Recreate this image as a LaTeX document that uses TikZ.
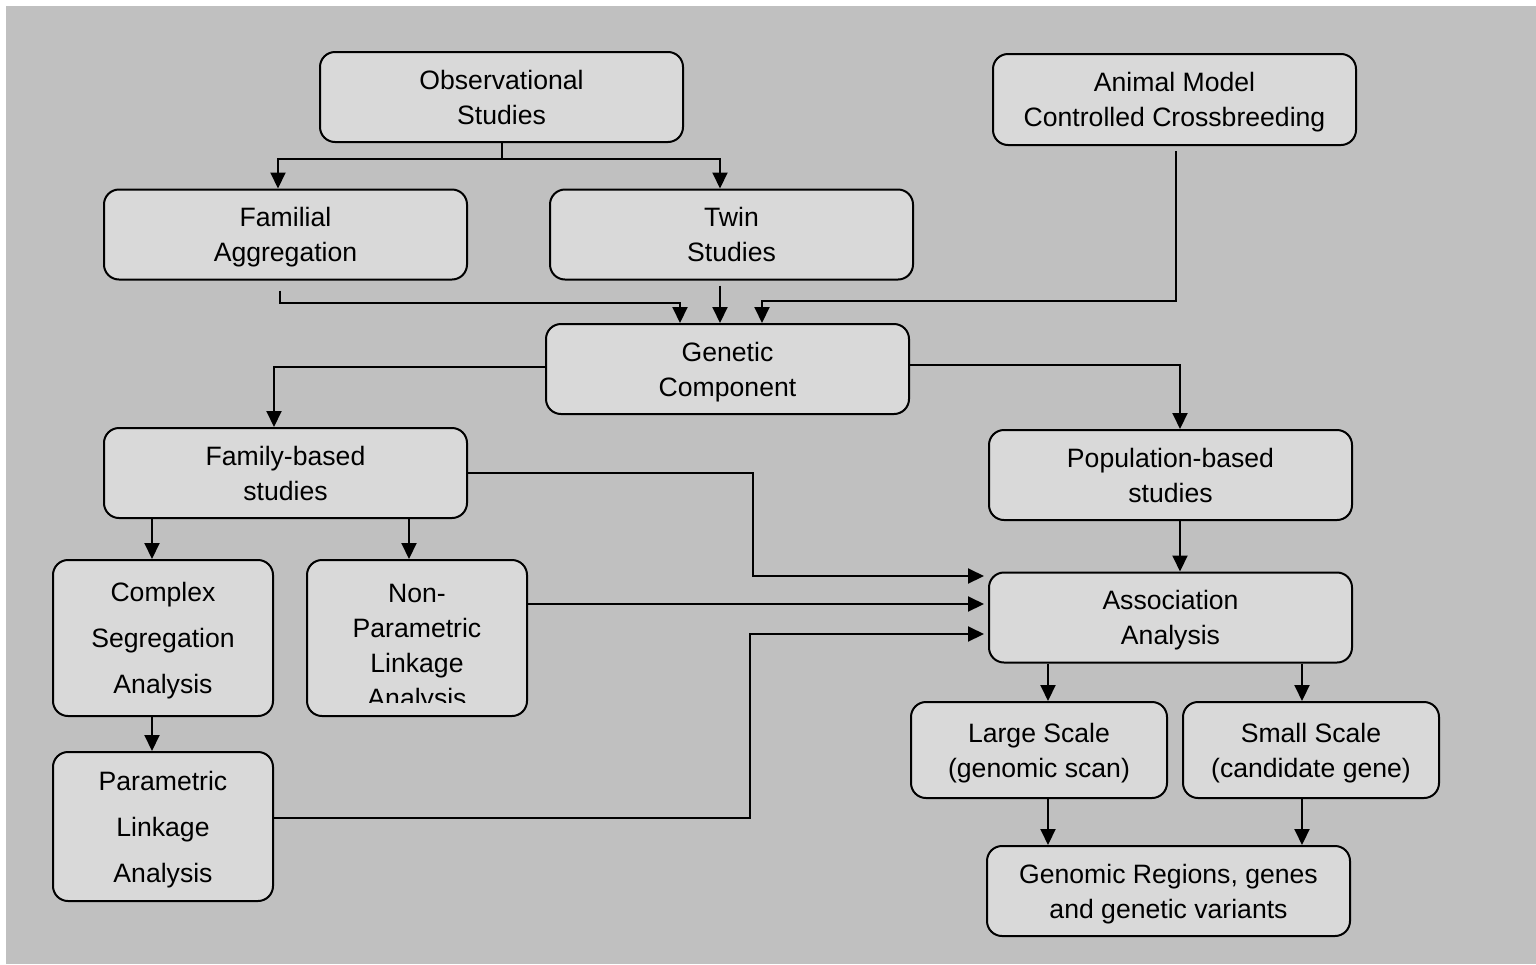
\documentclass[tikz,border=0pt]{standalone}
\usepackage{fontspec}
\setmainfont{Liberation Sans}
\usetikzlibrary{arrows.meta,positioning}
\definecolor{backgray}{HTML}{C0C0C0}
\definecolor{boxgray}{HTML}{D9D9D9}
\begin{document}
\begin{tikzpicture}[x=0.5pt,y=-0.5pt,>={Triangle[length=8pt,width=7.5pt]},
  stage/.style={draw,line width=1pt,fill=boxgray,rounded corners=7.5pt,inner sep=0pt,
    align=center,minimum width=181.5pt,minimum height=45pt,text depth=0pt,
    font=\fontsize{13.3}{17.5}\selectfont},
  tallstage/.style={stage,minimum width=110pt,font=\fontsize{13.3}{23}\selectfont},
  smallstage/.style={stage,minimum width=128pt,minimum height=48pt},
  link/.style={line width=1pt}]
\fill[white] (0,0) rectangle (1536,964);
\fill[backgray] (6,6) rectangle (1536,964);
\useasboundingbox (0,0) rectangle (1536,964);
% top row
\node[stage] (obs) at (501.5,97) {Observational\\Studies};
\node[stage,minimum height=45.5pt] (animal) at (1174.5,99.5) {Animal Model\\Controlled Crossbreeding};
\node[stage] (fam) at (285.5,234.5) {Familial\\Aggregation};
\node[stage] (twin) at (731.5,234.5) {Twin\\Studies};
\node[stage] (gen) at (727.5,369) {Genetic\\Component};
% study designs
\node[stage] (famb) at (285.5,473) {Family-based\\studies};
\node[stage] (pop) at (1170.5,475) {Population-based\\studies};
\node[tallstage,minimum height=78pt] (complex) at (163,638) {Complex\\Segregation\\Analysis};
\node[tallstage,minimum height=78pt] (nonpar) at (417,638) {};
\begin{scope}
\clip ([yshift=7.5pt]nonpar.south west) rectangle (nonpar.north east);
\node[align=center,text depth=0pt,font=\fontsize{13.3}{17.5}\selectfont] (nonpartext) at (417,646) {Non-\\Parametric\\Linkage\\Analysis};
\end{scope}
\node[tallstage,minimum height=74.5pt] (param) at (163,826.5) {Parametric\\Linkage\\Analysis};
\node[stage] (assoc) at (1170.5,617.5) {Association\\Analysis};
\node[smallstage] (large) at (1039,750) {Large Scale\\(genomic scan)};
\node[smallstage] (small) at (1311,750) {Small Scale\\(candidate gene)};
\node[stage] (genomic) at (1168.5,891) {Genomic Regions, genes\\and genetic variants};
% connectors
\draw[link] (obs.south) -- ++(0,16) coordinate (obssplit);
\draw[link,->] (obssplit) -| ([xshift=-3.75pt]fam.north);
\draw[link,->] (obssplit) -| ([xshift=-5.75pt]twin.north);
\draw[link,->] ([xshift=-3pt,yshift=-5pt]fam.south) -- ++(0,12) -| ([xshift=-23.75pt]gen.north);
\draw[link,->] ([xshift=-5.75pt,yshift=-2.5pt]twin.south) -- ([xshift=-3.75pt]gen.north);
\draw[link,->] ([xshift=0.75pt,yshift=-2.5pt]animal.south) -- ++(0,150) -| ([xshift=17.25pt]gen.north);
\draw[link,->] ([yshift=1pt]gen.west) -| ([xshift=-5.75pt]famb.north);
\draw[link,->] ([yshift=2pt]gen.east) -| ([xshift=4.75pt]pop.north);
\draw[link,->] ([xshift=-66.75pt]famb.south) -- ([xshift=-5.5pt]complex.north);
\draw[link,->] ([xshift=61.75pt]famb.south) -- ([xshift=-4pt]nonpar.north);
\draw[link,->] ([xshift=-5.5pt]complex.south) -- ([xshift=-5.5pt]param.north);
\draw[link,->] (famb.east) -- ++(285,0) |- ([xshift=-2pt,yshift=20.75pt]assoc.west);
\draw[link,->] ([yshift=17pt]nonpar.east) -- ([xshift=-2pt,yshift=6.75pt]assoc.west);
\draw[link,->] ([yshift=4.25pt]param.east) -- ++(476,0) |- ([xshift=-2pt,yshift=-8.25pt]assoc.west);
\draw[link,->] ([xshift=4.75pt]pop.south) -- ([xshift=4.75pt]assoc.north);
\draw[link,->] ([xshift=-61.25pt]assoc.south) -- ([xshift=4.5pt]large.north);
\draw[link,->] ([xshift=65.75pt]assoc.south) -- ([xshift=-4.5pt]small.north);
\draw[link,->] ([xshift=4.5pt]large.south) -- ([xshift=-60.25pt]genomic.north);
\draw[link,->] ([xshift=-4.5pt]small.south) -- ([xshift=66.75pt]genomic.north);
\end{tikzpicture}
\end{document}
